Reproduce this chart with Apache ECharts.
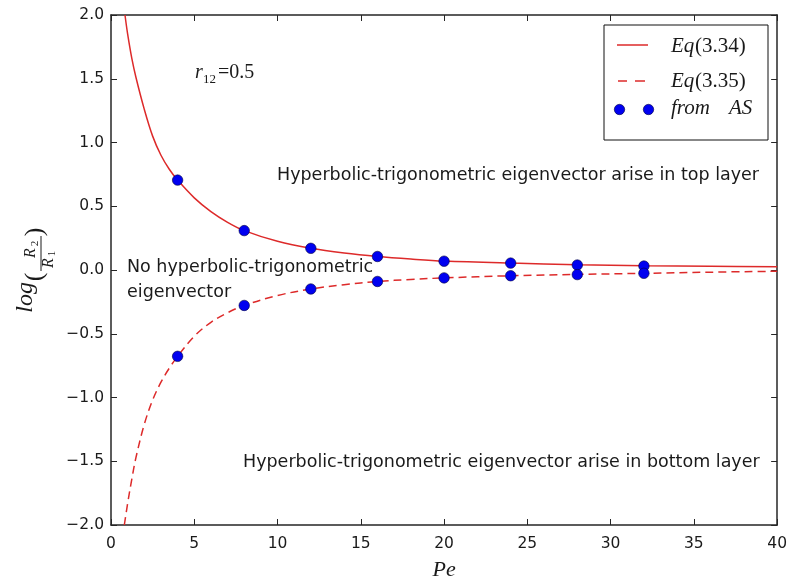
<!DOCTYPE html>
<html>
<head>
<meta charset="utf-8">
<script src="https://cdn.jsdelivr.net/npm/echarts@6/dist/echarts.min.js"></script>
<style>
  html, body { margin: 0; padding: 0; background: #ffffff; }
  #chart { width: 790px; height: 586px; }
</style>
</head>
<body>
<div id="chart"></div>
<script>
// Pe values at which the analytic curves are sampled
const peCurve = [0.84, 1.0, 1.25, 1.5, 2.0, 2.5, 3.0, 3.5, 4, 5, 6, 7, 8, 10, 12, 14, 16, 18, 20, 24, 28, 32, 36, 40];
// Eq(3.34): log(R2/R1), upper branch
const eq334 = [2.0, 1.85, 1.66, 1.51, 1.26, 1.05, 0.90, 0.79, 0.705, 0.566, 0.458, 0.374, 0.309, 0.225, 0.17, 0.133, 0.106, 0.086, 0.070, 0.054, 0.042, 0.033, 0.029, 0.026];
// Eq(3.35): log(R2/R1), lower branch
const peCurveLow = [0.8, 1.0, 1.25, 1.5, 2.0, 2.5, 3.0, 3.5, 4, 5, 6, 7, 8, 10, 12, 14, 16, 18, 20, 24, 28, 32, 36, 40];
const eq335 = [-2.0, -1.83, -1.64, -1.47, -1.21, -1.02, -0.88, -0.77, -0.677, -0.52, -0.41, -0.335, -0.278, -0.20, -0.149, -0.115, -0.090, -0.074, -0.062, -0.045, -0.035, -0.026, -0.017, -0.010];
// Values obtained from AS
const peAS = [4, 8, 12, 16, 20, 24, 28, 32];
const asUpper = [0.705, 0.309, 0.170, 0.106, 0.069, 0.054, 0.039, 0.031];
const asLower = [-0.677, -0.278, -0.149, -0.090, -0.062, -0.045, -0.036, -0.026];
// Axis ticks
const xTicks = { min: 0, max: 40, step: 5 };
const yTicks = { min: -2, max: 2, step: 0.5 };

const pairs = (xs, ys) => xs.map((x, i) => [x, ys[i]]);
const asPoints = pairs(peAS, asUpper).concat(pairs(peAS, asLower));

const RED = '#dd2a2a';
const BLUE = '#0000f0';
const AXIS = '#262626';
const INK = '#1a1a1a';
const SANS = 'DejaVu Sans';
const SERIF = 'Liberation Serif';

const axisLine = { show: true, onZero: false, lineStyle: { color: AXIS, width: 1.5 } };
const axisTick = { show: true, inside: true, length: 6, lineStyle: { color: AXIS, width: 1 } };
const fmtNum = (v, d) => (v < 0 ? '\u2212' : '') + Math.abs(v).toFixed(d);

// Plain text element; (x, y) is the left/middle anchor unless overridden
function txt(x, y, text, font, align, z) {
  return {
    type: 'text', x: x, y: y, z: z || 5,
    style: { text: text, font: font, fill: INK,
      align: align || 'left', verticalAlign: 'middle',
      textAlign: align || 'left', textVerticalAlign: 'middle' }
  };
}

const chart = echarts.init(document.getElementById('chart'), null, { renderer: 'canvas' });

chart.setOption({
  animation: false,
  backgroundColor: '#ffffff',
  grid: { left: 111, right: 12, top: 15, bottom: 53, containLabel: false },
  xAxis: [
    {
      type: 'value', position: 'bottom', min: xTicks.min, max: xTicks.max, interval: xTicks.step,
      axisLine: axisLine, axisTick: axisTick, splitLine: { show: false },
      axisLabel: { color: INK, fontFamily: SANS, fontSize: 15.5, margin: 11, formatter: v => fmtNum(v, 0) },
      name: 'Pe', nameLocation: 'middle', nameGap: 34,
      nameTextStyle: { fontFamily: SERIF, fontStyle: 'italic', fontSize: 22, color: INK }
    },
    {
      type: 'value', position: 'top', min: xTicks.min, max: xTicks.max, interval: xTicks.step,
      axisLine: axisLine, axisTick: axisTick, splitLine: { show: false }, axisLabel: { show: false }
    }
  ],
  yAxis: [
    {
      type: 'value', position: 'left', min: yTicks.min, max: yTicks.max, interval: yTicks.step,
      axisLine: axisLine, axisTick: axisTick, splitLine: { show: false },
      axisLabel: { color: INK, fontFamily: SANS, fontSize: 15.5, margin: 7, formatter: v => fmtNum(v, 1) }
    },
    {
      type: 'value', position: 'right', min: yTicks.min, max: yTicks.max, interval: yTicks.step,
      axisLine: axisLine, axisTick: axisTick, splitLine: { show: false }, axisLabel: { show: false }
    }
  ],
  series: [
    {
      name: 'Eq(3.34)', type: 'line', xAxisIndex: 0, yAxisIndex: 0,
      data: pairs(peCurve, eq334), showSymbol: false, smooth: 0.35,
      lineStyle: { color: RED, width: 1.5 }, clip: true, z: 2
    },
    {
      name: 'Eq(3.35)', type: 'line', xAxisIndex: 0, yAxisIndex: 0,
      data: pairs(peCurveLow, eq335), showSymbol: false, smooth: 0.35,
      lineStyle: { color: RED, width: 1.5, type: [8, 5] }, clip: true, z: 2
    },
    {
      name: 'from AS', type: 'scatter', xAxisIndex: 0, yAxisIndex: 0,
      data: asPoints, symbol: 'circle', symbolSize: 10.5,
      itemStyle: { color: BLUE, borderColor: '#000040', borderWidth: 0.6, opacity: 1 }, z: 3
    }
  ],
  graphic: [
    // Region annotations
    txt(277, 175, 'Hyperbolic-trigonometric eigenvector arise in top layer', '17.5px ' + SANS),
    txt(127, 267, 'No hyperbolic-trigonometric', '17.5px ' + SANS),
    txt(127, 292, 'eigenvector', '17.5px ' + SANS),
    txt(243, 462, 'Hyperbolic-trigonometric eigenvector arise in bottom layer', '17.5px ' + SANS),
    // r12 = 0.5
    txt(195, 73, 'r', 'italic 20px ' + SERIF),
    txt(203, 80, '12', '13px ' + SERIF),
    txt(218, 73, '=0.5', '20px ' + SERIF),
    // Legend box
    {
      type: 'rect', shape: { x: 604, y: 25, width: 164, height: 115 },
      style: { fill: '#ffffff', stroke: '#111111', lineWidth: 1 }, z: 10
    },
    { type: 'line', shape: { x1: 617, y1: 45, x2: 648, y2: 45 }, style: { stroke: RED, lineWidth: 1.5 }, z: 11 },
    { type: 'line', shape: { x1: 618, y1: 81, x2: 627, y2: 81 }, style: { stroke: RED, lineWidth: 1.5 }, z: 11 },
    { type: 'line', shape: { x1: 635, y1: 81, x2: 645, y2: 81 }, style: { stroke: RED, lineWidth: 1.5 }, z: 11 },
    { type: 'circle', shape: { cx: 619.5, cy: 109.5, r: 5.2 }, style: { fill: BLUE, stroke: '#000040', lineWidth: 0.6 }, z: 11 },
    { type: 'circle', shape: { cx: 648.5, cy: 109.5, r: 5.2 }, style: { fill: BLUE, stroke: '#000040', lineWidth: 0.6 }, z: 11 },
    txt(671, 46, 'Eq', 'italic 21px ' + SERIF, 'left', 11),
    txt(695, 46, '(3.34)', '21px ' + SERIF, 'left', 11),
    txt(671, 81, 'Eq', 'italic 21px ' + SERIF, 'left', 11),
    txt(695, 81, '(3.35)', '21px ' + SERIF, 'left', 11),
    txt(671, 108.5, 'from', 'italic 21px ' + SERIF, 'left', 11),
    txt(729, 108.5, 'AS', 'italic 21px ' + SERIF, 'left', 11),
    // Y-axis title: log(R2/R1), written bottom-to-top
    {
      type: 'group', x: 33, y: 274, rotation: Math.PI / 2,
      children: [
        txt(-8, -7, 'log', 'italic 24px ' + SERIF, 'right'),
        txt(-3, 2.5, '(', '26px ' + SERIF, 'center'),
        txt(42, 2.5, ')', '26px ' + SERIF, 'center'),
        { type: 'line', shape: { x1: 3, y1: 8, x2: 38, y2: 8 }, style: { stroke: INK, lineWidth: 1 } },
        txt(21, -2, 'R', 'italic 16px ' + SERIF, 'center'),
        txt(30.5, 2, '2', '11px ' + SERIF, 'center'),
        txt(11, 16, 'R', 'italic 16px ' + SERIF, 'center'),
        txt(20.5, 19, '1', '11px ' + SERIF, 'center')
      ]
    }
  ]
});
</script>
</body>
</html>
